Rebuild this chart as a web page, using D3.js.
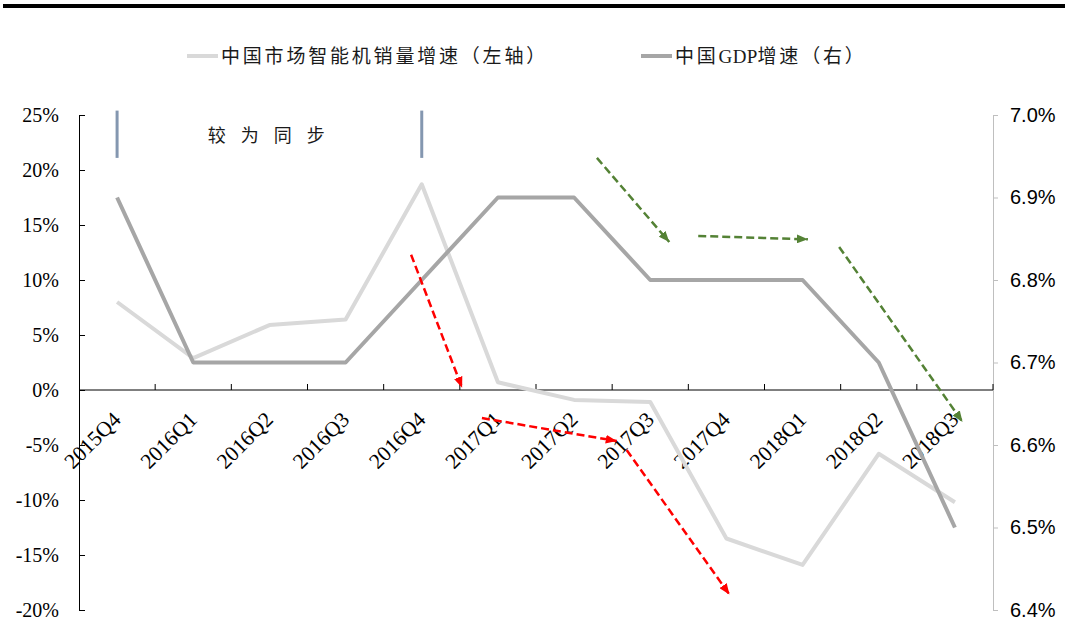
<!DOCTYPE html>
<html>
<head>
<meta charset="utf-8">
<script src="https://cdn.jsdelivr.net/npm/d3@7/dist/d3.min.js"></script>
<style>
  html, body { margin: 0; padding: 0; background: #fff; }
  svg { display: block; }
</style>
</head>
<body>
<svg id="chart" width="1065" height="633"></svg>
<script>
// Quarterly categories
const categories = ["2015Q4","2016Q1","2016Q2","2016Q3","2016Q4","2017Q1",
                    "2017Q2","2017Q3","2017Q4","2018Q1","2018Q2","2018Q3"];
// China smartphone shipment growth, % (left axis)
const phoneGrowth = [8.0, 2.9, 5.9, 6.4, 18.7, 0.7, -0.9, -1.1, -13.5, -15.9, -5.8, -10.2];
// China GDP growth, % (right axis)
const gdpGrowth = [6.9, 6.7, 6.7, 6.7, 6.8, 6.9, 6.9, 6.8, 6.8, 6.8, 6.7, 6.5];
// Axis ticks
const leftTicks = [-20, -15, -10, -5, 0, 5, 10, 15, 20, 25];
const rightTicks = [6.4, 6.5, 6.6, 6.7, 6.8, 6.9, 7.0];
// Trend arrows: [fromIndex, fromValue, toIndex, toValue] in category index / left-axis %
const redArrows = [[3.86, 12.3, 4.53, 0.2], [4.79, -2.55, 6.56, -4.64], [6.69, -5.45, 8.04, -18.6]];
const greenArrows = [[6.30, 21.1, 7.25, 13.45], [7.63, 14.0, 9.07, 13.7], [9.48, 13.0, 11.1, -2.9]];
// "In step" bracket: category indexes of the two marker bars, and vertical extent in %
const syncMarks = [0, 4];
const syncRange = [25.4, 21.1];

const svg = d3.select("#chart");
const plotLeft = 79, plotRight = 993, plotTop = 115, plotBottom = 610;

const x = d3.scaleBand().domain(categories).range([plotLeft, plotRight]).padding(0);
const yL = d3.scaleLinear().domain([-20, 25]).range([plotBottom, plotTop]);
const yR = d3.scaleLinear().domain([6.4, 7.0]).range([plotBottom, plotTop]);
const xAt = i => x(categories[0]) + x.bandwidth() / 2 + i * x.step();

const serif = "'Liberation Serif', 'Times New Roman', serif";
const cjk = "'Liberation Serif', 'Noto Sans CJK SC', serif";

// Top rule
svg.append("rect").attr("x", 3).attr("y", 4).attr("width", 1062).attr("height", 4).attr("fill", "#000");

// Legend: each label is split into runs so Latin letters keep normal spacing
const legend = [
  { parts: ["中国市场智能机销量增速（左轴）"], color: "#d9d9d9", x: 187 },
  { parts: ["中国", "GDP", "增速（右）"], color: "#a6a6a6", x: 641 }
];
legend.forEach(l => {
  svg.append("line").attr("x1", l.x).attr("x2", l.x + 31).attr("y1", 56).attr("y2", 56)
    .attr("stroke", l.color).attr("stroke-width", 4);
  const t = svg.append("text").attr("x", l.x + 34).attr("y", 56).attr("dominant-baseline", "central")
    .attr("font-family", cjk).attr("font-size", 19).attr("fill", "#1a1a1a");
  l.parts.forEach(p => {
    t.append("tspan").attr("letter-spacing", /^[A-Za-z]+$/.test(p) ? 0.3 : 2.8).text(p);
  });
});

// Left axis
const axL = svg.append("g").attr("transform", `translate(${plotLeft},0)`)
  .call(d3.axisLeft(yL).tickValues(leftTicks).tickSize(-6).tickSizeOuter(0).tickPadding(20)
    .tickFormat(d => d + "%"));
axL.select(".domain").attr("stroke", "#000");
axL.selectAll(".tick line").attr("stroke", "#000");
axL.selectAll("text").attr("font-family", serif).attr("font-size", 20).attr("fill", "#000");

// Right axis
const axR = svg.append("g").attr("transform", `translate(${plotRight},0)`)
  .call(d3.axisRight(yR).tickValues(rightTicks).tickSize(5).tickSizeOuter(0).tickPadding(12)
    .tickFormat(d => d.toFixed(1) + "%"));
axR.select(".domain").attr("stroke", "#bfbfbf");
axR.selectAll(".tick line").attr("stroke", "#bfbfbf");
axR.selectAll("text").attr("font-family", "'Liberation Sans', Arial, sans-serif")
  .attr("font-size", 20).attr("fill", "#000");

// Category axis along the 0% line
const y0 = yL(0);
const xAxis = svg.append("g");
xAxis.append("line").attr("x1", plotLeft).attr("x2", plotRight).attr("y1", y0).attr("y2", y0)
  .attr("stroke", "#000").attr("stroke-width", 1);
xAxis.selectAll("line.tk").data(categories).enter().append("line").attr("class", "tk")
  .attr("x1", d => x(d) + x.bandwidth()).attr("x2", d => x(d) + x.bandwidth())
  .attr("y1", y0).attr("y2", y0 - 6).attr("stroke", "#000");
xAxis.selectAll("text").data(categories).enter().append("text")
  .attr("transform", d => `translate(${x(d) + x.bandwidth() / 2 + 5},${y0 + 31}) rotate(-45)`)
  .attr("text-anchor", "end").attr("font-family", serif).attr("font-size", 21.5)
  .attr("fill", "#000").text(d => d);

// Series lines
const linePhone = d3.line().x((d, i) => x(categories[i]) + x.bandwidth() / 2).y(d => yL(d));
const lineGdp = d3.line().x((d, i) => x(categories[i]) + x.bandwidth() / 2).y(d => yR(d));
svg.append("path").datum(phoneGrowth).attr("d", linePhone).attr("fill", "none")
  .attr("stroke", "#d9d9d9").attr("stroke-width", 4).attr("stroke-linejoin", "round");
svg.append("path").datum(gdpGrowth).attr("d", lineGdp).attr("fill", "none")
  .attr("stroke", "#a6a6a6").attr("stroke-width", 4).attr("stroke-linejoin", "round");

// "In step" bracket and label
syncMarks.forEach(i => {
  svg.append("line").attr("x1", xAt(i)).attr("x2", xAt(i))
    .attr("y1", yL(syncRange[0])).attr("y2", yL(syncRange[1]))
    .attr("stroke", "#8497b0").attr("stroke-width", 3);
});
svg.append("text").attr("x", xAt(1.19)).attr("y", yL(23.3)).attr("dominant-baseline", "central")
  .attr("font-family", "'Noto Sans CJK SC', sans-serif").attr("font-size", 18)
  .attr("letter-spacing", 15).attr("fill", "#1a1a1a").text("较为同步");

// Arrow heads
const defs = svg.append("defs");
[["red", "#ff0000"], ["green", "#548235"]].forEach(([id, c]) => {
  defs.append("marker").attr("id", "arrow-" + id).attr("markerUnits", "userSpaceOnUse")
    .attr("viewBox", "0 0 10 8").attr("refX", 10).attr("refY", 4)
    .attr("markerWidth", 11).attr("markerHeight", 9).attr("orient", "auto")
    .append("path").attr("d", "M0,0 L10,4 L0,8 Z").attr("fill", c);
});

function drawArrows(list, color, id) {
  svg.selectAll(null).data(list).enter().append("line")
    .attr("x1", d => xAt(d[0])).attr("y1", d => yL(d[1]))
    .attr("x2", d => xAt(d[2])).attr("y2", d => yL(d[3]))
    .attr("stroke", color).attr("stroke-width", 2.5).attr("stroke-dasharray", "8,4")
    .attr("marker-end", `url(#arrow-${id})`);
}
drawArrows(redArrows, "#ff0000", "red");
drawArrows(greenArrows, "#548235", "green");
</script>
</body>
</html>
